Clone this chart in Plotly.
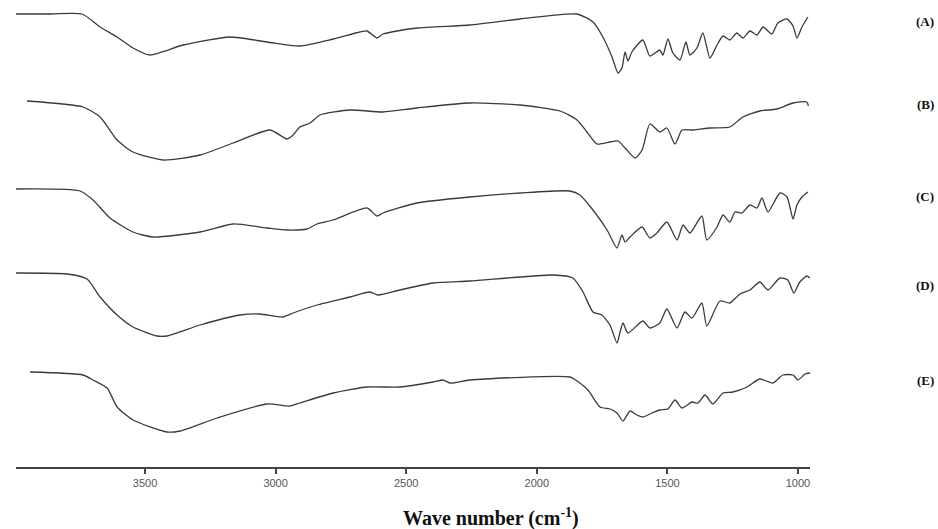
import plotly.graph_objects as go

# Wavenumbers (cm-1) and relative intensity (a.u., stacked) for each spectrum
wn_A = [3994, 3864, 3741, 3672, 3607, 3546, 3481, 3354, 3175, 3033, 2907, 2780, 2677, 2650, 2612, 2589,
        2459, 2256, 2064, 1846, 1785, 1747, 1712, 1689, 1674, 1662, 1651, 1636, 1594, 1567, 1529, 1517,
        1498, 1479, 1452, 1429, 1414, 1387, 1364, 1337, 1310, 1287, 1261, 1234, 1211, 1184, 1157, 1134,
        1100, 1077, 1042, 1019, 1004, 985, 962]
val_A = [453, 453, 453, 440, 430, 419, 412, 422, 430, 425, 421, 428, 435, 436, 429, 433,
         439, 442, 448, 453, 445, 430, 410, 394, 399, 415, 406, 415, 427, 411, 417, 412,
         428, 414, 407, 425, 412, 419, 434, 409, 422, 431, 427, 434, 429, 436, 432, 440,
         433, 444, 448, 441, 429, 440, 450]

wn_B = [3952, 3737, 3672, 3607, 3546, 3431, 3289, 3163, 3021, 2956, 2933, 2907, 2868, 2830, 2715,
        2589, 2459, 2256, 2064, 1911, 1846, 1808, 1770, 1720, 1689, 1662, 1624, 1597, 1567, 1529,
        1502, 1471, 1444, 1402, 1337, 1261, 1211, 1146, 1081, 1019, 966, 960]
val_B = [366, 360, 350, 327, 315, 307, 312, 324, 337, 328, 332, 340, 344, 352, 357,
         355, 359, 364, 362, 356, 347, 335, 323, 325, 326, 319, 309, 317, 343, 335,
         339, 323, 337, 337, 339, 340, 350, 356, 358, 364, 365, 361]

wn_C = [3994, 3749, 3699, 3634, 3546, 3469, 3289, 3163, 3033, 2956, 2880, 2842, 2780, 2650, 2612,
        2589, 2459, 2256, 2064, 1873, 1835, 1785, 1731, 1693, 1674, 1662, 1643, 1597, 1567, 1540,
        1502, 1463, 1440, 1414, 1368, 1349, 1310, 1287, 1261, 1241, 1215, 1184, 1157, 1138, 1115,
        1069, 1042, 1019, 1004, 985, 962]
val_C = [278, 276, 267, 249, 235, 230, 235, 243, 239, 237, 238, 243, 247, 259, 251,
         254, 264, 270, 274, 276, 272, 257, 237, 219, 232, 225, 230, 240, 229, 234,
         245, 227, 242, 234, 251, 227, 240, 252, 245, 255, 254, 262, 259, 269, 255,
         274, 270, 248, 262, 270, 275]

wn_D = [3994, 3799, 3722, 3672, 3607, 3546, 3454, 3416, 3289, 3136, 3060, 2972, 2933, 2842, 2715,
        2639, 2608, 2524, 2397, 2256, 1938, 1862, 1823, 1785, 1751, 1720, 1693, 1682, 1670, 1651,
        1594, 1567, 1529, 1502, 1463, 1433, 1406, 1368, 1349, 1299, 1261, 1222, 1184, 1146, 1115,
        1069, 1039, 1016, 993, 966, 954]
val_D = [194, 193, 188, 170, 152, 140, 131, 131, 142, 152, 153, 150, 154, 162, 170,
         175, 172, 177, 184, 186, 192, 189, 175, 155, 152, 142, 124, 134, 144, 134,
         146, 139, 144, 158, 139, 155, 149, 164, 141, 166, 164, 173, 177, 185, 177,
         189, 187, 174, 185, 191, 189]

wn_E = [3940, 3737, 3699, 3645, 3607, 3546, 3416, 3366, 3224, 3033, 2945, 2907, 2780, 2650, 2524,
        2397, 2359, 2332, 2256, 1873, 1846, 1804, 1758, 1720, 1693, 1670, 1643, 1617, 1594, 1559,
        1529, 1498, 1471, 1444, 1406, 1383, 1356, 1326, 1287, 1249, 1195, 1146, 1096, 1058, 1019,
        1000, 973, 954]
val_E = [95, 92, 87, 79, 60, 47, 35, 36, 49, 63, 61, 64, 74, 80, 80,
         85, 87, 84, 87, 90, 86, 77, 60, 58, 54, 46, 56, 52, 50, 54,
         57, 58, 67, 59, 65, 64, 72, 63, 74, 75, 80, 88, 84, 92, 92,
         87, 93, 94]

labels = ["(A)", "(B)", "(C)", "(D)", "(E)"]
label_y = [446, 363, 271, 182, 87]
tick_vals = [3500, 3000, 2500, 2000, 1500, 1000]
tick_text = ["3500", "3000", "2500", "2000", "1500", "1000"]

series = [(wn_A, val_A), (wn_B, val_B), (wn_C, val_C), (wn_D, val_D), (wn_E, val_E)]

fig = go.Figure()
for (wx, wy), name in zip(series, labels):
    fig.add_trace(go.Scatter(x=wx, y=wy, mode="lines", name=name,
                             line=dict(color="#3a3a3a", width=1.3, shape="spline", smoothing=0.6),
                             showlegend=False, hoverinfo="x+y"))

for name, ly in zip(labels, label_y):
    fig.add_annotation(text="<b>%s</b>" % name, x=1.145, xref="paper", y=ly, yref="y",
                       showarrow=False, xanchor="center", yanchor="middle",
                       font=dict(family="Liberation Serif", size=13, color="#111"))

fig.add_annotation(text="<b>Wave number (cm<sup>-1</sup>)</b>", x=0.598, xref="paper",
                   y=-0.108, yref="paper", showarrow=False, xanchor="center", yanchor="middle",
                   font=dict(family="Liberation Serif", size=20, color="#111"))

fig.update_layout(
    width=938, height=529,
    margin=dict(l=16, r=128, t=0, b=62),
    paper_bgcolor="white", plot_bgcolor="white",
    xaxis=dict(range=[3994, 954], showgrid=False, zeroline=False,
               showline=True, linecolor="#444", linewidth=2,
               ticks="outside", ticklen=5, tickwidth=1.5, tickcolor="#444",
               tickvals=tick_vals, ticktext=tick_text,
               tickfont=dict(family="Liberation Sans", size=11, color="#555")),
    yaxis=dict(range=[0, 467], visible=False, fixedrange=True),
)

fig.write_html("out.html", config={"displayModeBar": False},
               post_script="document.body.style.margin='0';document.body.style.padding='0';")
